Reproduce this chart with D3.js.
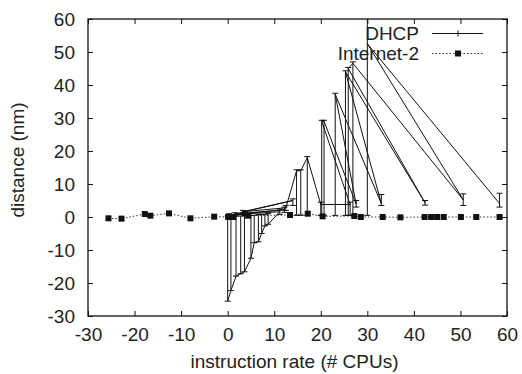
<!DOCTYPE html>
<html>
<head>
<meta charset="utf-8">
<script src="https://cdn.jsdelivr.net/npm/d3@7"></script>
<style>
  body { margin: 0; background: #fff; }
  text { font-family: "Liberation Sans", Arial, sans-serif; fill: #222; }
</style>
</head>
<body>
<script>
// tick values for both axes
var xTicks = [-30, -20, -10, 0, 10, 20, 30, 40, 50, 60];
var yTicks = [-30, -20, -10, 0, 10, 20, 30, 40, 50, 60];

// DHCP series, in plotting order (x, y, error bar low, error bar high)
var dhcpX    = [0, 0.7, 1.8, 2.8, 3.6, 5.0, 5.7, 6.6, 7.3, 8.0, 8.7,
                11.2, 0.3, 12.2, 1.5, 14.0, 3.3, 12.5,
                14.8, 15.7, 17.1, 20.0, 26.3, 20.2, 20.7, 27.6, 23.1, 33.0,
                25.3, 42.4, 25.9, 26.9, 50.6, 30.0, 58.4];
var dhcpY    = [-25.5, -22.3, -17.9, -17.2, -16.6, -12.5, -7.8, -7.5, -5.0, -2.7, -2.2,
                1.6, 0.6, 2.2, 0.9, 5.0, 1.6, 2.8,
                14.0, 14.0, 18.0, 3.8, 3.8, 29.0, 29.0, 3.9, 37.2, 4.1,
                44.0, 4.3, 45.0, 46.6, 5.2, 52.5, 4.1];
var dhcpLow  = [-25.5, -22.3, -17.9, -17.2, -16.6, -12.5, -7.8, -7.5, -5.0, -2.7, -2.2,
                0.8, 0, 1.4, 0.3, 3.5, 1.0, 2.0,
                0.5, 0.5, 0.5, 0.5, 0.5, 0.5, 0.5, 3.0, 0.5, 3.5,
                0.5, 3.6, 0.5, 0.5, 3.5, 0.5, 3.0];
var dhcpHigh = [0.3, 0.3, 0.3, 0.3, 0.5, 0.5, 0.5, 0.8, 0.8, 0.8, 1.0,
                2.4, 1.0, 3.0, 1.3, 5.5, 2.0, 3.5,
                14.3, 14.3, 18.3, 4.5, 4.5, 29.3, 29.3, 5.0, 37.5, 6.8,
                44.3, 5.0, 45.3, 47.0, 7.0, 63.0, 7.2];

// Internet-2 series
var inetX = [-25.6, -22.8, -17.8, -16.6, -12.6, -8.0, -2.9, 0.1, 1.2, 3.7, 4.4,
             13.4, 17.2, 20.4, 27.2, 28.6, 33.3, 37.1, 42.3, 43.7, 45.0, 46.4,
             50.1, 53.4, 58.4];
var inetY = [-0.4, -0.5, 0.9, 0.4, 1.1, -0.4, 0.1, 0, 0, 1.1, 0.4,
             0.6, 1.0, 0.2, 0.3, 0, 0, -0.1, 0, 0, 0, 0,
             0, 0, 0];

// set the dimensions and margins of the graph
var margin = {top: 19, right: 15, bottom: 58, left: 88},
    width = 522 - margin.left - margin.right,
    height = 374 - margin.top - margin.bottom;

var x = d3.scaleLinear().domain([-30, 60]).range([0, width]);
var y = d3.scaleLinear().domain([-30, 60]).range([height, 0]);

var svg = d3.select("body").append("svg")
    .attr("width", 522)
    .attr("height", 374)
  .append("g")
    .attr("transform", "translate(" + margin.left + "," + margin.top + ")");

svg.append("clipPath").attr("id", "clip")
  .append("rect").attr("width", width).attr("height", height);

var plot = svg.append("g").attr("clip-path", "url(#clip)");

// Internet-2 dotted line and squares
var inet = inetX.map(function(d, i) { return [d, inetY[i]]; });
plot.append("path")
    .datum(inet)
    .attr("fill", "none")
    .attr("stroke", "#333")
    .attr("stroke-width", 1)
    .attr("stroke-dasharray", "1.5,2")
    .attr("d", d3.line().x(function(d) { return x(d[0]); }).y(function(d) { return y(d[1]); }));

plot.selectAll(".sq")
    .data(inet)
  .enter().append("rect")
    .attr("x", function(d) { return x(d[0]) - 3; })
    .attr("y", function(d) { return y(d[1]) - 3; })
    .attr("width", 6)
    .attr("height", 6)
    .attr("fill", "#111");

// DHCP line with error bars
var dhcp = dhcpX.map(function(d, i) {
  return {x: d, y: dhcpY[i], lo: dhcpLow[i], hi: dhcpHigh[i]};
});

plot.append("path")
    .datum(dhcp)
    .attr("fill", "none")
    .attr("stroke", "#111")
    .attr("stroke-width", 1)
    .attr("d", d3.line().x(function(d) { return x(d.x); }).y(function(d) { return y(d.y); }));

var bars = plot.selectAll(".err")
    .data(dhcp)
  .enter().append("g")
    .attr("stroke", "#111")
    .attr("stroke-width", 1);

bars.append("line")
    .attr("x1", function(d) { return x(d.x); })
    .attr("x2", function(d) { return x(d.x); })
    .attr("y1", function(d) { return y(d.lo); })
    .attr("y2", function(d) { return y(d.hi); });
bars.append("line")
    .attr("x1", function(d) { return x(d.x) - 3; })
    .attr("x2", function(d) { return x(d.x) + 3; })
    .attr("y1", function(d) { return y(d.lo); })
    .attr("y2", function(d) { return y(d.lo); });
bars.append("line")
    .attr("x1", function(d) { return x(d.x) - 3; })
    .attr("x2", function(d) { return x(d.x) + 3; })
    .attr("y1", function(d) { return y(d.hi); })
    .attr("y2", function(d) { return y(d.hi); });

// axes, gnuplot style: ticks inward and mirrored
var tick = 5;
var fmt = function(d) { return String(d); };   // plain hyphen minus like gnuplot
svg.append("g")
    .attr("transform", "translate(0," + height + ")")
    .call(d3.axisBottom(x).tickValues(xTicks).tickFormat(fmt).tickSizeInner(-tick).tickSizeOuter(0).tickPadding(12));
svg.append("g")
    .call(d3.axisTop(x).tickValues(xTicks).tickSizeInner(-tick).tickSizeOuter(0).tickFormat(""));
svg.append("g")
    .call(d3.axisLeft(y).tickValues(yTicks).tickFormat(fmt).tickSizeInner(-tick).tickSizeOuter(0).tickPadding(13));
svg.append("g")
    .attr("transform", "translate(" + width + ",0)")
    .call(d3.axisRight(y).tickValues(yTicks).tickSizeInner(-tick).tickSizeOuter(0).tickFormat(""));

svg.selectAll(".domain").remove();
svg.selectAll(".tick line").attr("stroke", "#111");
svg.selectAll(".tick text")
    .style("font-size", "19px")
    .style("font-family", "'Liberation Sans', Arial, sans-serif")
    .attr("fill", "#222");

// border
svg.append("rect")
    .attr("width", width)
    .attr("height", height)
    .attr("fill", "none")
    .attr("stroke", "#111")
    .attr("stroke-width", 1.3);

// axis titles
svg.append("text")
    .attr("x", width / 2 - 3)
    .attr("y", 349)
    .attr("text-anchor", "middle")
    .style("font-size", "19px")
    .text("instruction rate (# CPUs)");

svg.append("text")
    .attr("transform", "translate(" + (-margin.left + 24) + "," + 141 + ") rotate(-90)")
    .attr("text-anchor", "middle")
    .style("font-size", "19px")
    .text("distance (nm)");

// legend
var legend = svg.append("g").attr("transform", "translate(" + (-margin.left) + "," + (-margin.top) + ")");
legend.append("text").attr("x", 419).attr("y", 40).attr("text-anchor", "end")
    .style("font-size", "19px").text("DHCP");
legend.append("text").attr("x", 419).attr("y", 60).attr("text-anchor", "end")
    .style("font-size", "19px").text("Internet-2");

legend.append("line").attr("x1", 432).attr("x2", 483).attr("y1", 33.5).attr("y2", 33.5)
    .attr("stroke", "#111").attr("stroke-width", 1);
legend.append("line").attr("x1", 458).attr("x2", 458).attr("y1", 30.5).attr("y2", 36.5)
    .attr("stroke", "#111").attr("stroke-width", 1);
legend.append("line").attr("x1", 432).attr("x2", 483).attr("y1", 53.5).attr("y2", 53.5)
    .attr("stroke", "#333").attr("stroke-width", 1).attr("stroke-dasharray", "1.5,2");
legend.append("rect").attr("x", 455).attr("y", 50.5).attr("width", 6).attr("height", 6)
    .attr("fill", "#111");
</script>
</body>
</html>
